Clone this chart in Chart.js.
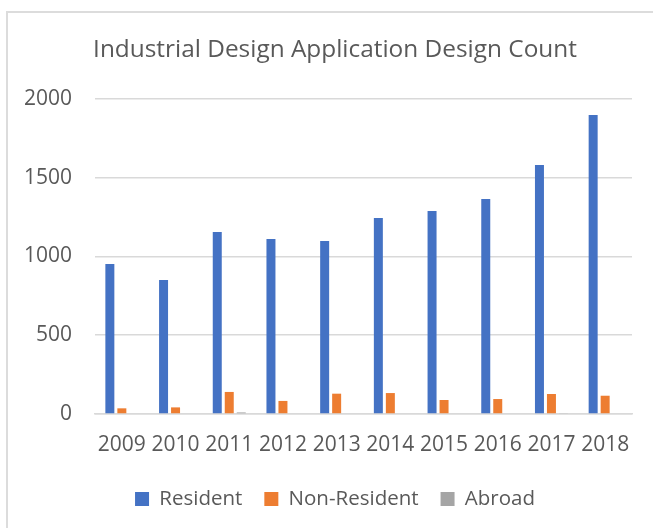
<!DOCTYPE html>
<html>
<head>
<meta charset="utf-8">
<script src="https://cdn.jsdelivr.net/npm/chart.js@4.4.1/dist/chart.umd.min.js"></script>
<style>
  html, body { margin: 0; padding: 0; background: #fff; overflow: hidden; }
  #frame {
    position: absolute; left: 6px; top: 11px; width: 700px; height: 600px;
    border-left: 2px solid #dcdcdc; border-top: 2px solid #dcdcdc;
  }
  #wrap { position: absolute; left: 7px; top: 12px; width: 656px; height: 540px; }
</style>
</head>
<body>
<div id="frame"></div>
<div id="wrap"><canvas id="chart" width="656" height="540"></canvas></div>
<script>
// ── Data ─────────────────────────────────────────────────────────
const YEARS = ["2009", "2010", "2011", "2012", "2013", "2014", "2015", "2016", "2017", "2018"];
const RESIDENT = [952, 851, 1156, 1111, 1098, 1244, 1289, 1365, 1581, 1898];
const NON_RESIDENT = [36, 42, 140, 83, 129, 133, 89, 95, 127, 116];
const ABROAD = [0, 0, 10, 0, 0, 0, 0, 0, 4, 0];
const Y_TICKS = [0, 500, 1000, 1500, 2000];

const FONT = "'Open Sans', 'Liberation Sans', sans-serif";
const TEXT = "#595959";
const GRID = "#d9d9d9";

function ds(label, data, color) {
  return {
    label, data,
    backgroundColor: color,
    borderWidth: 0,
    categoryPercentage: 0.67,
    barPercentage: 0.75,
  };
}

// ── Chart ────────────────────────────────────────────────────────
new Chart(document.getElementById("chart"), {
  type: "bar",
  data: {
    labels: YEARS,
    datasets: [
      ds("Resident", RESIDENT, "#4472C4"),
      ds("Non-Resident", NON_RESIDENT, "#ED7D31"),
      ds("Abroad", ABROAD, "#A5A5A5"),
    ],
  },
  options: {
    responsive: false,
    devicePixelRatio: 1,
    animation: false,
    layout: { padding: { top: 0, left: 0, right: 0, bottom: 32.8 } },
    scales: {
      x: {
        afterFit: (s) => { s.height = 52.7; },
        grid: { display: false, drawTicks: false },
        border: { display: true, color: GRID, width: 1.5 },
        ticks: { color: TEXT, font: { family: FONT, size: 21 }, padding: 18, maxRotation: 0, autoSkip: false },
      },
      y: {
        min: 0, max: 2000,
        afterBuildTicks: (s) => { s.ticks = Y_TICKS.map(v => ({ value: v })); },
        afterFit: (s) => { s.width = 88; },
        grid: { color: GRID, lineWidth: 1.5, drawTicks: false },
        border: { display: false },
        ticks: { color: TEXT, font: { family: FONT, size: 21 }, padding: 23, callback: (v) => String(v) },
      },
      // empty right-hand margin, so title and legend stay centred on the whole box
      pad: {
        position: "right",
        afterFit: (s) => { s.width = 31; },
        grid: { display: false, drawTicks: false },
        border: { display: false },
        ticks: { display: false },
      },
    },
    plugins: {
      title: {
        display: true,
        text: "Industrial Design Application Design Count",
        color: TEXT,
        font: { family: FONT, size: 24.4, weight: "normal" },
        padding: { top: 23.8, bottom: 33.9 },
      },
      legend: {
        position: "bottom",
        labels: {
          color: TEXT,
          font: { family: FONT, size: 20.5 },
          boxWidth: 14, boxHeight: 14,
          padding: 22,
        },
      },
      tooltip: { enabled: false },
    },
  },
});
</script>
</body>
</html>
